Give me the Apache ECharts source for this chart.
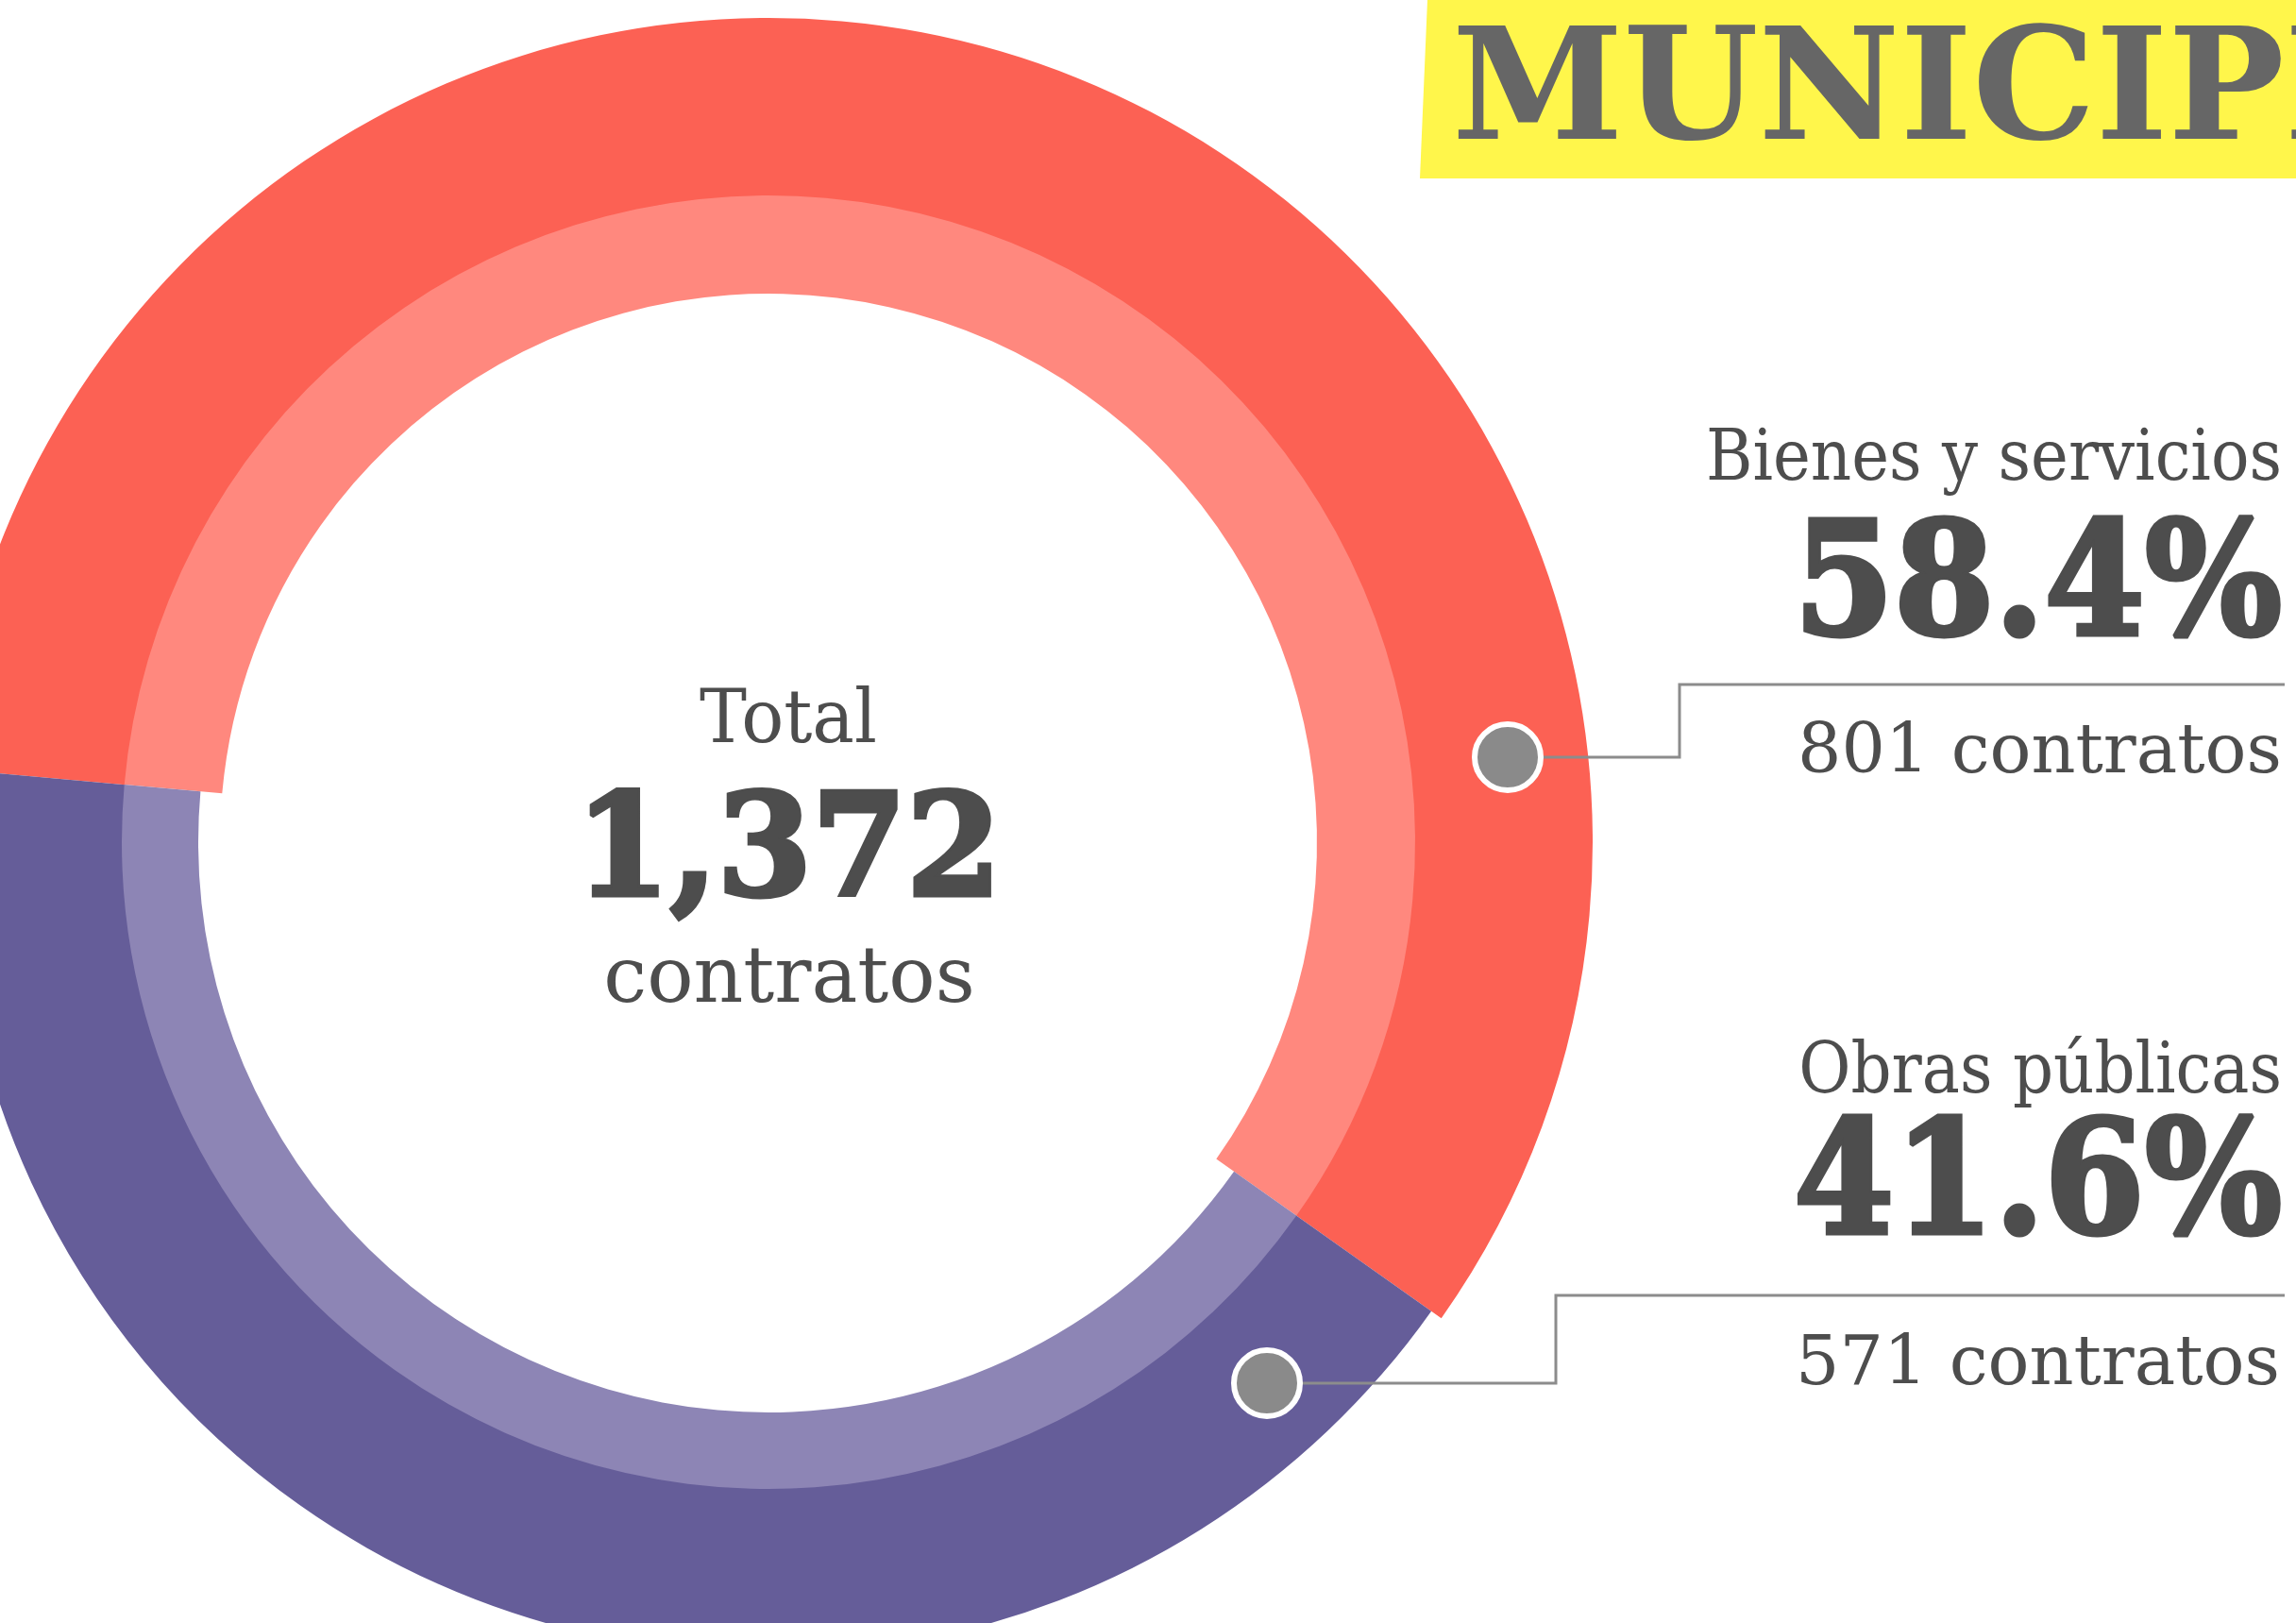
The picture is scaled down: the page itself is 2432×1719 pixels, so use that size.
<!DOCTYPE html>
<html>
<head>
<meta charset="utf-8">
<title>Contratos municipios</title>
<script src="https://cdn.jsdelivr.net/npm/echarts@6/dist/echarts.min.js"></script>
<style>
  html, body { margin: 0; padding: 0; background: #fff; }
  #chart { width: 2432px; height: 1719px; }
</style>
</head>
<body>
<div id="chart"></div>
<script>
// data
const categories = ['Bienes y servicios', 'Obras públicas'];
const contratos = [801, 571];
const titulo = 'MUNICIPIOS';

const total = contratos.reduce((a, b) => a + b, 0);
const pct = contratos.map((v) => (v / total * 100).toFixed(1) + '%');
const fmt = (n) => n.toLocaleString('en-US');

// styles
const CENTER = [814, 892];
const START = 174.9;
const NONE = 'rgba(0,0,0,0)';
const DARK = ['#FC6154', '#655D99'];
const LIGHT = ['#FF887E', '#8D85B5'];
const INK = '#4d4d4d';
const SERIF = '"DejaVu Serif", serif';

function ring(radius, colors) {
  return {
    type: 'pie',
    center: CENTER,
    radius: radius,
    startAngle: START,
    clockwise: true,
    silent: true,
    animation: false,
    avoidLabelOverlap: false,
    label: {show: false},
    labelLine: {show: false},
    emphasis: {disabled: true},
    itemStyle: {borderWidth: 0},
    data: categories.map((c, i) => ({
      name: c,
      value: contratos[i],
      itemStyle: {color: colors[i]},
    })),
  };
}

// y is the baseline of the text
function txt(x, y, text, size, opts) {
  opts = opts || {};
  const style = {
    text: text,
    fill: opts.fill || INK,
    font: (opts.bold ? 'bold ' : '') + size + 'px ' + SERIF,
    align: opts.align || 'right',
    verticalAlign: 'middle',
  };
  if (opts.heavy) {
    style.stroke = opts.fill || INK;
    style.lineWidth = opts.heavy;
  }
  return {
    type: 'text',
    x: x,
    y: y - size * 0.27,
    z: 100,
    scaleX: opts.sx || 1,
    silent: true,
    style: style,
  };
}

function leader(points, dot) {
  return [
    {
      type: 'polyline', z: 100, silent: true,
      shape: {points: points},
      style: {stroke: '#8c8c8c', lineWidth: 3, fill: null},
    },
    {
      type: 'circle', z: 101, silent: true,
      shape: {cx: dot[0], cy: dot[1], r: 35},
      style: {fill: '#8a8a8a', stroke: '#fff', lineWidth: 6},
    },
  ];
}

const chart = echarts.init(document.getElementById('chart'), null, {renderer: 'canvas'});

chart.setOption({
  backgroundColor: '#fff',
  animation: false,
  series: [
    ring([684, 873], [DARK[0], NONE]),
    ring([684, 860], [NONE, DARK[1]]),
    ring([581, 685], [LIGHT[0], NONE]),
    ring([604, 685], [NONE, LIGHT[1]]),
  ],
  graphic: [
    {
      type: 'polygon', z: 90, silent: true,
      shape: {points: [[1512, 0], [2432, 0], [2432, 189], [1504, 189]]},
      style: {fill: '#FFF64B'},
    },
    txt(1538, 149, titulo, 164, {bold: true, fill: '#666', align: 'left'}),

    txt(835, 787, 'Total', 78, {align: 'center', sx: 0.96}),
    txt(835, 950, fmt(total), 150, {align: 'center', bold: true, sx: 0.96, heavy: 5}),
    txt(836, 1062, 'contratos', 82, {align: 'center'}),

    txt(2417, 509, categories[0], 74, {sx: 0.91}),
    txt(2417, 674, pct[0], 166, {bold: true, sx: 0.92, heavy: 5}),
    txt(2417, 819, contratos[0] + ' contratos', 73),

    txt(2417, 1158, categories[1], 74, {sx: 0.91}),
    txt(2417, 1308, pct[1], 166, {bold: true, sx: 0.92, heavy: 5}),
    txt(2415, 1467, contratos[1] + ' contratos', 73),

    ...leader([[2420, 725], [1779, 725], [1779, 802], [1597, 802]], [1597, 802]),
    ...leader([[2420, 1372], [1648, 1372], [1648, 1465], [1342, 1465]], [1342, 1465]),
  ],
});
</script>
</body>
</html>
